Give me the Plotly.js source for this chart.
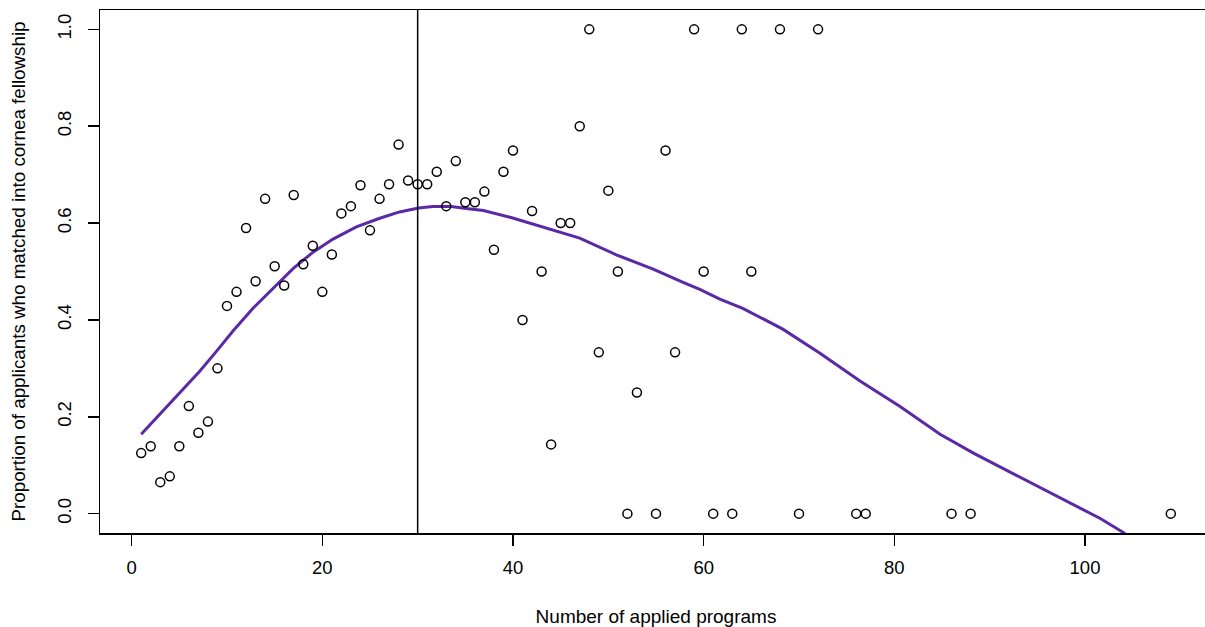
<!DOCTYPE html>
<html>
<head>
<meta charset="utf-8">
<script src="https://cdn.plot.ly/plotly-3.0.1.min.js"></script>
<style>
  html, body { margin: 0; padding: 0; overflow: hidden; background: #ffffff; }
  #chart { width: 1212px; height: 627px; }
</style>
</head>
<body>
<div id="chart"></div>
<script>
// Observed data: number of applied programs vs proportion matched
const programs = [1,2,3,4,5,6,7,8,9,10,11,12,13,14,15,16,17,18,19,20,21,22,23,24,25,26,27,28,29,30,
  31,32,33,34,35,36,37,38,39,40,41,42,43,44,45,46,47,48,49,50,51,52,53,55,56,57,59,60,61,63,64,65,68,70,72,76,77,86,88,109];
const proportion = [0.125,0.139,0.065,0.077,0.139,0.222,0.167,0.19,0.3,0.429,0.458,0.59,0.48,0.65,0.511,0.471,0.658,0.515,0.553,0.458,
  0.535,0.62,0.635,0.678,0.585,0.65,0.68,0.762,0.688,0.68,
  0.68,0.706,0.635,0.728,0.643,0.643,0.665,0.545,0.706,0.75,0.4,0.625,0.5,0.143,0.6,0.6,0.8,1.0,0.333,0.667,0.5,0,0.25,0,0.75,0.333,1.0,0.5,0,0,1.0,0.5,1.0,0,1.0,0,0,0,0,0];

// Smoothed fit
const fitX = [1,2.94,4.0,5.04,6.1,7.14,8.89,10.63,12.73,14.83,16.93,19.03,21.12,23.57,26.02,28.1,30.1,31.6,33.5,35.1,36.9,39.7,43.2,47.0,50.9,54.7,57.9,59.6,61.7,64.1,68.3,72.2,76.4,80.6,84.8,88.3,92.8,97.4,101.6,104.2];
const fitY = [0.164,0.205,0.227,0.250,0.272,0.294,0.335,0.377,0.424,0.466,0.506,0.540,0.567,0.592,0.610,0.623,0.631,0.634,0.634,0.630,0.626,0.612,0.591,0.569,0.534,0.505,0.477,0.463,0.443,0.424,0.381,0.331,0.274,0.221,0.164,0.125,0.079,0.032,-0.010,-0.041];

const cutoff = 30;
const xTicks = [0,20,40,60,80,100];
const yTicks = [0.0,0.2,0.4,0.6,0.8,1.0];
const yTickLabels = ['0.0','0.2','0.4','0.6','0.8','1.0'];

const FONT = '"Liberation Sans", Arial, sans-serif';

const traces = [
  {
    x: fitX, y: fitY, type: 'scatter', mode: 'lines',
    line: { color: '#5a2aa6', width: 3 },
    hoverinfo: 'skip', showlegend: false
  },
  {
    x: programs, y: proportion, type: 'scatter', mode: 'markers',
    marker: { symbol: 'circle-open', size: 9, color: '#000000', line: { width: 1.5, color: '#000000' } },
    showlegend: false
  }
];

const layout = {
  width: 1212, height: 627,
  margin: { l: 100, r: 0, t: 9.5, b: 94, pad: 0 },
  paper_bgcolor: '#ffffff', plot_bgcolor: '#ffffff',
  font: { family: FONT, color: '#000000', size: 18.5 },
  showlegend: false,
  xaxis: {
    range: [-3.32, 113.32],
    tickvals: xTicks, ticktext: xTicks.map(String),
    ticks: 'outside', ticklen: 11, tickwidth: 1.5, tickcolor: '#000000',
    showline: true, linecolor: '#000000', linewidth: 1.5, mirror: true,
    showgrid: false, zeroline: false,
    tickfont: { family: FONT, size: 18.5, color: '#000000' },
    ticklabelstandoff: 6,
    title: { text: 'Number of applied programs', font: { family: FONT, size: 19, color: '#000000' }, standoff: 33 },
    automargin: false
  },
  yaxis: {
    range: [-0.04, 1.04],
    tickvals: yTicks, ticktext: yTickLabels,
    tickangle: -90,
    ticks: 'outside', ticklen: 11, tickwidth: 1.5, tickcolor: '#000000',
    showline: true, linecolor: '#000000', linewidth: 1.5, mirror: true,
    showgrid: false, zeroline: false,
    tickfont: { family: FONT, size: 18.5, color: '#000000' },
    ticklabelstandoff: 9,
    title: { text: 'Proportion of applicants who matched into cornea fellowship', font: { family: FONT, size: 18.8, color: '#000000' }, standoff: 23 },
    automargin: false
  },
  shapes: [
    { type: 'line', xref: 'x', yref: 'paper', x0: cutoff, x1: cutoff, y0: 0, y1: 1,
      line: { color: '#000000', width: 1.5 } }
  ]
};

Plotly.newPlot('chart', traces, layout, { staticPlot: true, displayModeBar: false });
</script>
</body>
</html>
